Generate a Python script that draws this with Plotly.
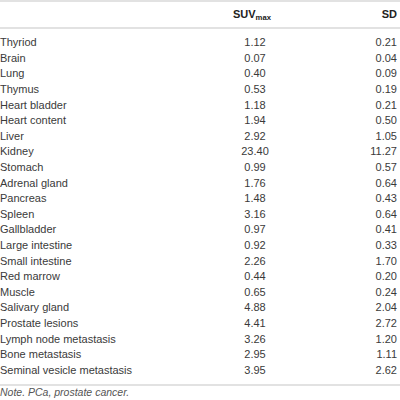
import plotly.graph_objects as go

organs = ["Thyriod", "Brain", "Lung", "Thymus", "Heart bladder", "Heart content", "Liver", "Kidney",
          "Stomach", "Adrenal gland", "Pancreas", "Spleen", "Gallbladder", "Large intestine",
          "Small intestine", "Red marrow", "Muscle", "Salivary gland", "Prostate lesions",
          "Lymph node metastasis", "Bone metastasis", "Seminal vesicle metastasis"]
suv_max = ["1.12", "0.07", "0.40", "0.53", "1.18", "1.94", "2.92", "23.40", "0.99", "1.76", "1.48",
           "3.16", "0.97", "0.92", "2.26", "0.44", "0.65", "4.88", "4.41", "3.26", "2.95", "3.95"]
sd = ["0.21", "0.04", "0.09", "0.19", "0.21", "0.50", "1.05", "11.27", "0.57", "0.64", "0.43",
      "0.64", "0.41", "0.33", "1.70", "0.20", "0.24", "2.04", "2.72", "1.20", "1.11", "2.62"]
headers = ["", "SUV<sub>max</sub>", "SD"]
note = "Note. PCa, prostate cancer."

rows = list(range(len(organs)))
top_px, step = 43.5, 15.6
y0 = -top_px / step
y1 = (400 - top_px) / step
def py(p):
    return (p - top_px) / step

font = dict(family="Liberation Sans, Arial, sans-serif", size=11, color="#3a3a3a")

fig = go.Figure()
fig.add_trace(go.Scatter(x=[0] * len(organs), y=rows, text=organs, mode="text",
                         textposition="middle right", textfont=font, hoverinfo="skip"))
fig.add_trace(go.Scatter(x=[255] * len(suv_max), y=rows, text=suv_max, mode="text",
                         textposition="middle center", textfont=font, hoverinfo="skip"))
fig.add_trace(go.Scatter(x=[397] * len(sd), y=rows, text=sd, mode="text",
                         textposition="middle left", textfont=font, hoverinfo="skip"))
hfont = dict(family="Liberation Sans, Arial, sans-serif", size=11, color="#222222")
fig.add_trace(go.Scatter(x=[252], y=[py(15)], text=["<b>" + headers[1] + "</b>"], mode="text",
                         textposition="middle center", textfont=hfont, hoverinfo="skip"))
fig.add_trace(go.Scatter(x=[397], y=[py(15)], text=["<b>" + headers[2] + "</b>"], mode="text",
                         textposition="middle left", textfont=hfont, hoverinfo="skip"))
fig.add_trace(go.Scatter(x=[0], y=[py(393)], text=["<i>" + note + "</i>"], mode="text",
                         textposition="middle right",
                         textfont=dict(family="Liberation Sans, Arial, sans-serif", size=10.5, color="#555555"),
                         hoverinfo="skip"))

for p in [1, 28, 385]:
    fig.add_shape(type="line", x0=0, x1=400, y0=py(p), y1=py(p),
                  line=dict(color="#d9d9d9", width=1.5))

fig.update_layout(width=400, height=400, margin=dict(l=0, r=0, t=0, b=0),
                  paper_bgcolor="white", plot_bgcolor="white", showlegend=False,
                  xaxis=dict(range=[0, 400], visible=False, fixedrange=True),
                  yaxis=dict(range=[y1, y0], visible=False, fixedrange=True))
fig.write_html("out.html", config={"displayModeBar": False},
               post_script="document.body.style.margin='0';document.body.style.overflow='hidden';")
